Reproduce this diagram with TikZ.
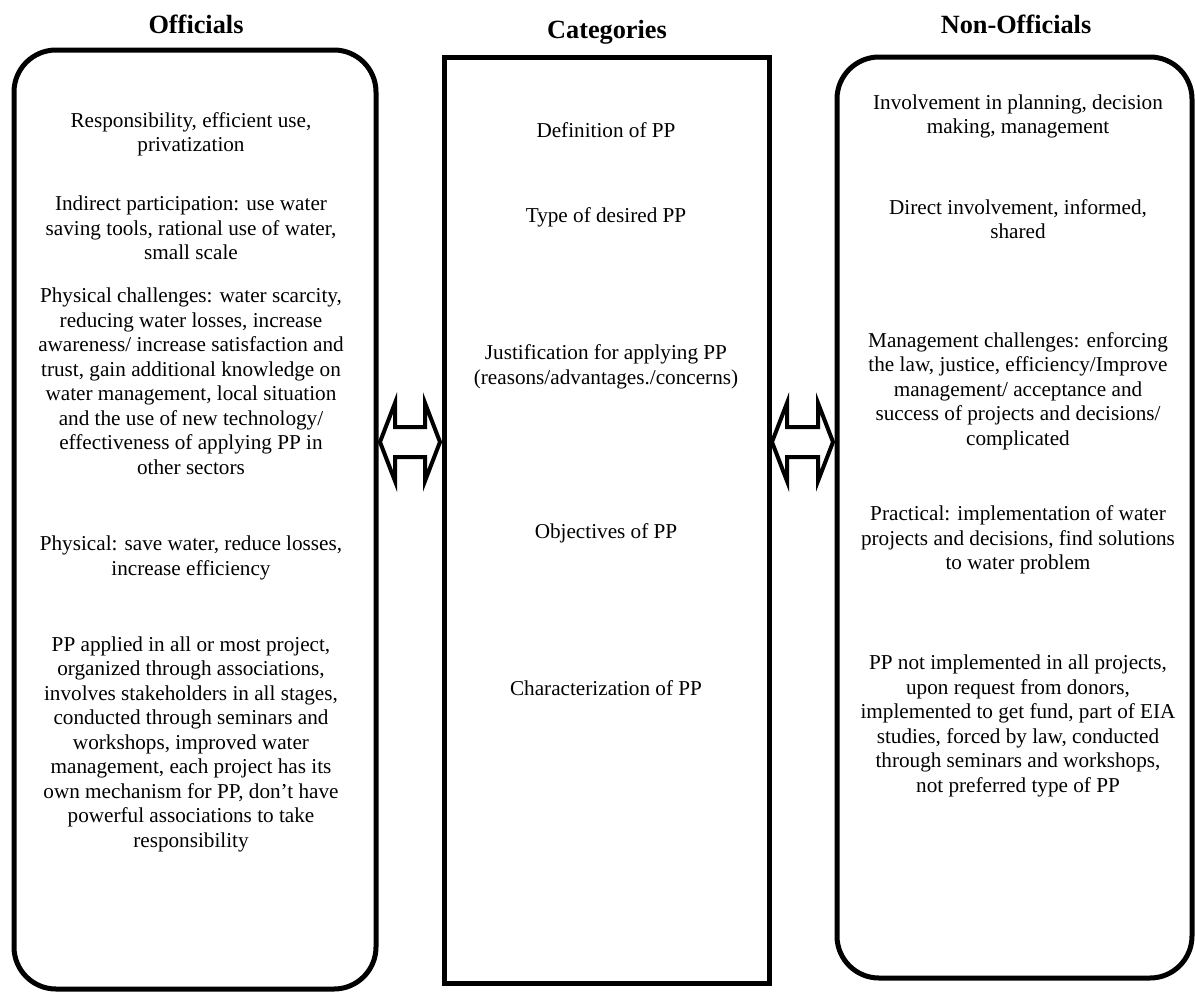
\documentclass[tikz,border=0pt]{standalone}
\usepackage{fontspec}
\setmainfont{Liberation Serif}
\begin{document}
\begin{tikzpicture}[x=0.5pt,y=-0.5pt,
  panel/.style={draw, line width=2.5pt, inner sep=0pt, outer sep=0pt},
  roundpanel/.style={panel, rounded corners=21pt},
  body/.style={align=center, inner sep=0pt, font=\fontsize{10.6pt}{12.25pt}\selectfont},
  title/.style={anchor=base, inner sep=0pt, font=\fontsize{13.15pt}{15pt}\selectfont\bfseries},
  bigarrow/.style={draw, line width=2pt, line join=miter, fill=white}]
\useasboundingbox (0,0) rectangle (1195,992);

% titles
\node[title] (toff) at (196,33) {Officials};
\node[title] (tcat) at (607,38) {Categories};
\node[title] (tnon) at (1016,33) {Non-Officials};

% panels
\node[roundpanel, minimum width=181pt, minimum height=469.5pt] (off) at (195,519.5) {};
\node[panel, minimum width=162.5pt, minimum height=463pt] (cat) at (606.5,520) {};
\node[roundpanel, minimum width=177.5pt, minimum height=460.5pt] (non) at (1014.5,517.5) {};

% double arrows between panels
\draw[bigarrow] (380,442) -- (395,403) -- (395,427) -- (425,427) -- (425,403) -- (440,442)
  -- (425,481) -- (425,457) -- (395,457) -- (395,481) -- cycle;
\draw[bigarrow] (772,442) -- (787,403) -- (787,427) -- (818,427) -- (818,403) -- (833,442)
  -- (818,481) -- (818,457) -- (787,457) -- (787,481) -- cycle;

% Officials
\node[body] (o1) at (191,134.5) {Responsibility, efficient use,\\privatization};
\node[body] (o2) at (191,228) {Indirect participation: use water\\saving tools, rational use of water,\\small scale};
\node[body] (o3) at (191,381) {Physical challenges: water scarcity,\\reducing water losses, increase\\awareness/ increase satisfaction and\\trust, gain additional knowledge on\\water management, local situation\\and the use of new technology/\\effectiveness of applying PP in\\other sectors};
\node[body] (o4) at (191,558) {Physical: save water, reduce losses,\\increase efficiency};
\node[body] (o5) at (191,744) {PP applied in all or most project,\\organized through associations,\\involves stakeholders in all stages,\\conducted through seminars and\\workshops, improved water\\management, each project has its\\own mechanism for PP, don’t have\\powerful associations to take\\responsibility};

% Categories
\node[body] (c1) at (606,130) {Definition of PP};
\node[body] (c2) at (606,217) {Type of desired PP};
\node[body] (c3) at (606,367) {Justification for applying PP\\(reasons/advantages./concerns)};
\node[body] (c4) at (606,533) {Objectives of PP};
\node[body] (c5) at (606,688) {Characterization of PP};

% Non-Officials
\node[body] (n1) at (1018,116.5) {Involvement in planning, decision\\making, management};
\node[body] (n2) at (1018,219) {Direct involvement, informed,\\shared};
\node[body] (n3) at (1018,391) {Management challenges: enforcing\\the law, justice, efficiency/Improve\\management/ acceptance and\\success of projects and decisions/\\complicated};
\node[body] (n4) at (1018,540) {Practical: implementation of water\\projects and decisions, find solutions\\to water problem};
\node[body] (n5) at (1018,726) {PP not implemented in all projects,\\upon request from donors,\\implemented to get fund, part of EIA\\studies, forced by law, conducted\\through seminars and workshops,\\not preferred type of PP};
\end{tikzpicture}
\end{document}
